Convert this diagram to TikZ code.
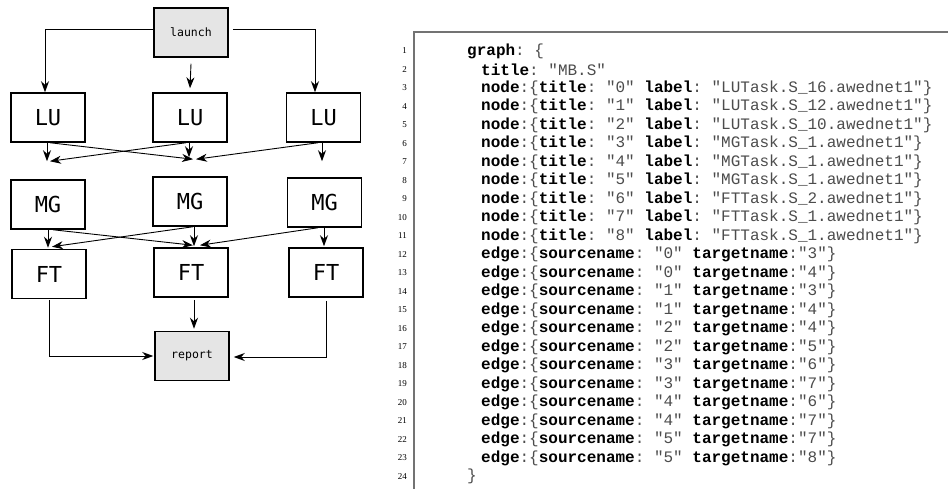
\documentclass[tikz,border=0pt]{standalone}
\usepackage{fontspec}
\setmonofont{Liberation Mono}
\newfontfamily\boxfont{DejaVu Sans Mono}
\newfontfamily\numfont{Liberation Serif}
\usetikzlibrary{arrows.meta}
\newcommand{\kw}[1]{\textcolor{black}{\bfseries #1}}

\tikzset{
  task/.style={draw, line width=1.5pt, minimum width=74pt, minimum height=49pt, inner sep=0pt,
    font=\boxfont\fontsize{22}{24}\selectfont},
  ctrl/.style={task, fill=black!10, font=\boxfont\fontsize{11.5}{13}\selectfont},
  dep/.style={line width=0.9pt, -{Stealth[length=11pt,width=8pt,inset=3.5pt]}},
  codeline/.style={anchor=west, inner sep=0pt, text=black!70, font=\ttfamily\fontsize{16}{18}\selectfont},
  lineno/.style={anchor=east, inner sep=0pt, font=\numfont\fontsize{9}{10}\selectfont}
}

\begin{document}
\begin{tikzpicture}[x=1pt,y=-1pt]
  \useasboundingbox (0,0) rectangle (948,489);
  % task graph
  \node[ctrl] (launch) at (191,32.5) {launch};
  \node[task] (lu1) at (48,117.5) {LU};
  \node[task] (lu2) at (190,117.5) {LU};
  \node[task] (lu3) at (323.5,117.5) {LU};
  \node[task] (mg1) at (48,204.5) {MG};
  \node[task] (mg2) at (190,201.5) {MG};
  \node[task] (mg3) at (324.5,202.5) {MG};
  \node[task] (ft1) at (49,274) {FT};
  \node[task] (ft2) at (191,272.5) {FT};
  \node[task] (ft3) at (326,272.5) {FT};
  \node[ctrl] (report) at (192,356) {report};

  \draw[dep] ([yshift=3.5pt]launch.west) -| ([xshift=-3pt]lu1.north);
  \draw[dep] ([yshift=-6pt]launch.south) -- ([yshift=4pt]lu2.north);
  \draw[dep] ([xshift=4pt,yshift=3.5pt]launch.east) -| ([xshift=-8.5pt]lu3.north);

  \draw[dep] ([xshift=-1pt]lu1.south) -- ([xshift=-1pt,yshift=18pt]mg1.north);
  \draw[dep] ([xshift=2pt]lu1.south) -- ([xshift=3pt,yshift=17pt]mg2.north);
  \draw[dep] ([xshift=-4pt]lu2.south) -- ([xshift=2pt,yshift=18pt]mg1.north);
  \draw[dep] ([xshift=-1pt]lu2.south) -- ([xshift=-1pt,yshift=19pt]mg2.north);
  \draw[dep] ([xshift=-5.5pt]lu3.south) -- ([xshift=6pt,yshift=17pt]mg2.north);
  \draw[dep] ([xshift=-1.5pt]lu3.south) -- ([xshift=-2.5pt,yshift=16pt]mg3.north);

  \draw[dep] (mg1.south) -- ([xshift=-1pt,yshift=1pt]ft1.north);
  \draw[dep] ([xshift=5pt]mg1.south) -- ([xshift=2pt,yshift=2pt]ft2.north);
  \draw[dep] ([xshift=3pt]mg2.south) -- ([xshift=3pt,yshift=2pt]ft1.north);
  \draw[dep] ([xshift=4pt]mg2.south) -- ([xshift=3pt,yshift=1pt]ft2.north);
  \draw[dep] ([xshift=-6.5pt]mg3.south) -- ([xshift=9pt,yshift=2pt]ft2.north);
  \draw[dep] ([xshift=-0.5pt]mg3.south) -- ([xshift=-2pt,yshift=1pt]ft3.north);

  \draw[dep] ([yshift=-1pt]ft1.south) |- ([xshift=-1pt]report.west);
  \draw[dep] ([xshift=3pt,yshift=-2pt]ft2.south) -- ([xshift=2pt,yshift=2pt]report.north);
  \draw[dep] ([yshift=-3pt]ft3.south) |- ([xshift=4pt,yshift=-1pt]report.east);

  % listing
  \draw[black!55, line width=1.2pt] (948,32) -- (414,32) -- (414,489);
  \foreach \k in {1,...,24}
    \node[lineno] (n\k) at (407,{51+(\k-1)*18.5}) {\k};
  \node[codeline] (l1) at (467,51) {\kw{graph}: \{};
  \node[codeline] (l2) at (481,69.5) {\kw{title}: "MB.S"};
  \foreach \t/\lab [count=\k from 3] in {0/LUTask.S\_16.awednet1, 1/LUTask.S\_12.awednet1,
      2/LUTask.S\_10.awednet1, 3/MGTask.S\_1.awednet1, 4/MGTask.S\_1.awednet1,
      5/MGTask.S\_1.awednet1, 6/FTTask.S\_2.awednet1, 7/FTTask.S\_1.awednet1, 8/FTTask.S\_1.awednet1}
    \node[codeline] (l\k) at (481,{51+(\k-1)*18.5})
      {\kw{node}:\{\kw{title}: "\t" \kw{label}: "\lab"\}};
  \foreach \s/\d [count=\k from 12] in {0/3,0/4,1/3,1/4,2/4,2/5,3/6,3/7,4/6,4/7,5/7,5/8}
    \node[codeline] (l\k) at (481,{51+(\k-1)*18.5})
      {\kw{edge}:\{\kw{sourcename}: "\s" \kw{targetname}:"\d"\}};
  \node[codeline] (l24) at (467,476.5) {\}};
\end{tikzpicture}
\end{document}
